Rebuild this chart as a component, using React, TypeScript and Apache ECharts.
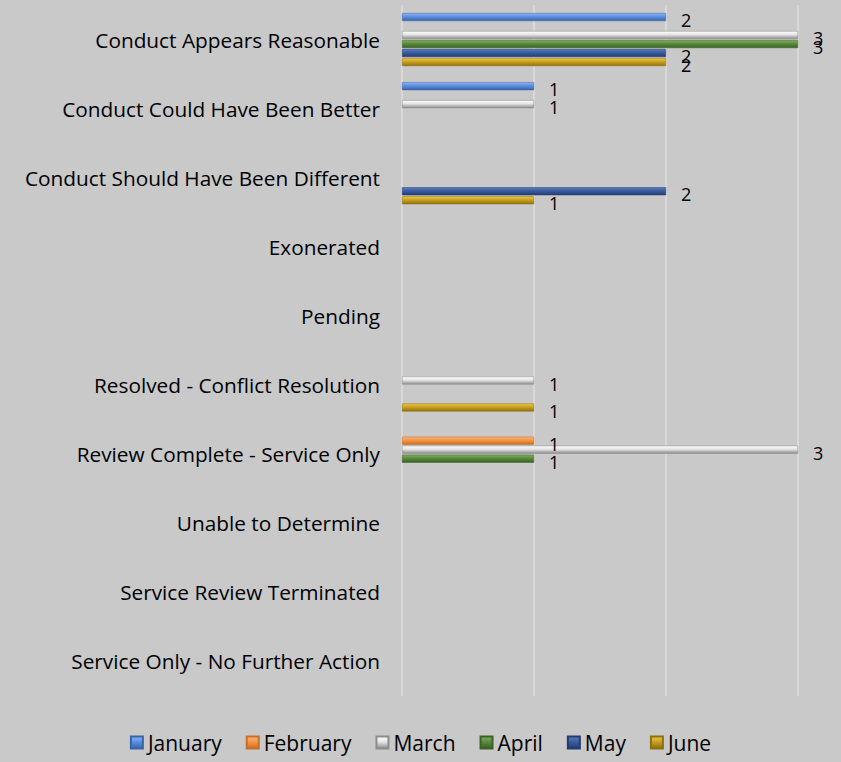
import React, { useEffect, useRef } from "react";
import * as echarts from "echarts";

const categories = [
  "Conduct Appears Reasonable",
  "Conduct Could Have Been Better",
  "Conduct Should Have Been Different",
  "Exonerated",
  "Pending",
  "Resolved - Conflict Resolution",
  "Review Complete - Service Only",
  "Unable to Determine",
  "Service Review Terminated",
  "Service Only - No Further Action",
];

const months = ["January", "February", "March", "April", "May", "June"];

const january = [2, 1, null, null, null, null, null, null, null, null];
const february = [null, null, null, null, null, null, 1, null, null, null];
const march = [3, 1, null, null, null, 1, 3, null, null, null];
const april = [3, null, null, null, null, null, 1, null, null, null];
const may = [2, null, 2, null, null, null, null, null, null, null];
const june = [2, null, 1, null, null, 1, null, null, null, null];

const seriesValues = [january, february, march, april, may, june];

const palette = [
  { light: "#8db6f2", main: "#5b8fe0", dark: "#3a64a8", legend: "#4a7fd2" },
  { light: "#ffb47a", main: "#f79646", dark: "#c86f2a", legend: "#ee8a3e" },
  { light: "#ffffff", main: "#e4e4e4", dark: "#8c8c8c", legend: "#b8b8b8" },
  { light: "#80b060", main: "#5a8a3c", dark: "#3a6224", legend: "#4e7d36" },
  { light: "#5a7cc0", main: "#3a5c9e", dark: "#223c70", legend: "#2f4f8f" },
  { light: "#f0c840", main: "#c9a020", dark: "#8f7010", legend: "#b89018" },
];

const FONT = "Open Sans";

export default function App() {
  const ref = useRef<HTMLDivElement>(null);
  useEffect(() => {
    document.body.style.margin = "0";
    document.body.style.background = "#c9c9c9";
    const chart = echarts.init(ref.current!, null, { renderer: "svg" });
    chart.setOption({
      animation: false,
      backgroundColor: "#c9c9c9",
      textStyle: { fontFamily: FONT },
      grid: { left: 402, right: 43, top: 5, bottom: 66, containLabel: false },
      legend: {
        bottom: 4,
        left: "center",
        icon: "rect",
        itemWidth: 12,
        itemHeight: 12,
        itemGap: 24,
        textStyle: { fontSize: 21, color: "#000", fontFamily: FONT },
        data: months,
      },
      xAxis: {
        type: "value",
        min: 0,
        max: 3,
        interval: 1,
        axisLabel: { show: false },
        axisLine: { show: false },
        axisTick: { show: false },
        splitLine: { lineStyle: { color: "#dedede", width: 1.5 } },
      },
      yAxis: {
        type: "category",
        inverse: true,
        data: categories,
        axisLine: { show: false },
        axisTick: { show: false },
        axisLabel: { fontSize: 20.8, color: "#000", margin: 22, fontFamily: FONT },
      },
      series: months.map((m, i) => ({
        name: m,
        type: "bar",
        data: seriesValues[i],
        barWidth: 8,
        barGap: "12.5%",
        itemStyle: {
          color: new echarts.graphic.LinearGradient(0, 0, 0, 1, [
            { offset: 0, color: palette[i].light },
            { offset: 0.45, color: palette[i].main },
            { offset: 1, color: palette[i].dark },
          ]),
          borderColor: palette[i].dark,
          borderWidth: 0.5,
        },
        label: {
          show: true,
          position: "right",
          distance: 15,
          offset: [0, 3],
          fontSize: 18,
          color: "#000",
          fontFamily: FONT,
        },
        color: palette[i].legend,
      })),
    });
    return () => chart.dispose();
  }, []);
  return <div ref={ref} style={{ width: 841, height: 762 }} />;
}
